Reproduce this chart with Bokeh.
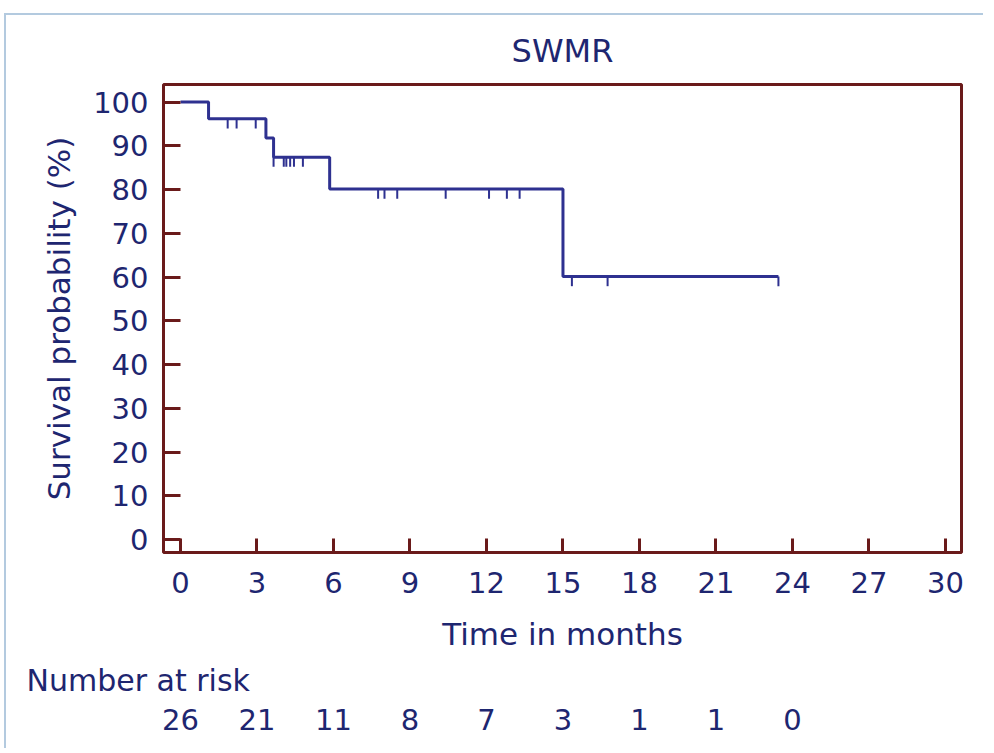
import numpy as np
from bokeh.plotting import figure
from bokeh.models import Range1d, SingleIntervalTicker, FixedTicker, LinearAxis, Title, ColumnDataSource
from bokeh.embed import file_html
from bokeh.resources import INLINE

# ---- data ----
step_times = [0.0, 1.1, 3.35, 3.65, 5.85, 15.0, 23.45]
step_surv = [100.0, 96.15, 91.8, 87.4, 80.1, 60.1, 60.1]
censor_times = [1.85, 2.2, 2.95, 3.65, 4.05, 4.15, 4.3, 4.45, 4.8,
                7.75, 8.0, 8.5, 10.4, 12.1, 12.8, 13.3, 15.35, 16.75, 23.45]
risk_times = [0, 3, 6, 9, 12, 15, 18, 21, 24]
risk_counts = [26, 21, 11, 8, 7, 3, 1, 1, 0]

FONT = "DejaVu Sans"
TXT = "#1E2670"
CURVE = "#2E3190"
FRAME = "#6A1A1A"
FS = "29px"
FS_LAB = "31px"

idx = np.searchsorted(np.array(step_times), np.array(censor_times), side="right") - 1
c_level = np.array(step_surv)[idx]
csrc = ColumnDataSource(dict(x=censor_times, y0=c_level, y1=c_level - 2.2))

p = figure(frame_width=798, frame_height=468,
           x_range=Range1d(-0.667, 30.63), y_range=Range1d(-2.97, 104.0),
           output_backend="svg", toolbar_location=None,
           min_border_left=157, min_border_right=22, min_border_top=69, min_border_bottom=196,
           background_fill_color="white", border_fill_color="white",
           margin=(13, 0, 0, 4),
           styles={"border-top": "2px solid #B3CADF", "border-left": "2px solid #B3CADF"})

p.title.text = "SWMR"
p.title.align = "center"
p.title.text_font = FONT
p.title.text_font_size = "32px"
p.title.text_font_style = "normal"
p.title.text_color = TXT
p.title.standoff = 29

p.grid.visible = False
p.outline_line_color = FRAME
p.outline_line_width = 3
p.outline_line_alpha = 1.0

p.step(x=step_times, y=step_surv, mode="after", line_color=CURVE, line_width=3)
p.segment(x0="x", y0="y0", x1="x", y1="y1", source=csrc, line_color=CURVE, line_width=2)

xa = p.xaxis[0]
xa.ticker = SingleIntervalTicker(interval=3)
xa.axis_label = "Time in months"
ya = p.yaxis[0]
ya.ticker = SingleIntervalTicker(interval=10)
ya.axis_label = "Survival probability (%)"

for ax, tin in ((xa, 14), (ya, 17)):
    ax.axis_line_color = None
    ax.major_tick_in = tin
    ax.major_tick_out = 0
    ax.major_tick_line_color = FRAME
    ax.major_tick_line_width = 3
    ax.minor_tick_line_color = None
    ax.major_label_text_font = FONT
    ax.major_label_text_font_size = FS
    ax.major_label_text_color = TXT
    ax.axis_label_text_font = FONT
    ax.axis_label_text_font_size = FS_LAB
    ax.axis_label_text_font_style = "normal"
    ax.axis_label_text_color = TXT

xa.major_label_standoff = 15
xa.axis_label_standoff = 20
ya.major_label_standoff = 11
ya.axis_label_standoff = 13

risk_title = Title(text="Number at risk", align="left", offset=-137,
                   text_font=FONT, text_font_size="30px", text_font_style="normal",
                   text_color=TXT, standoff=12)
p.add_layout(risk_title, "below")

risk_axis = LinearAxis(ticker=FixedTicker(ticks=risk_times),
                       major_label_overrides={t: str(c) for t, c in zip(risk_times, risk_counts)})
risk_axis.axis_line_color = None
risk_axis.major_tick_line_color = None
risk_axis.minor_tick_line_color = None
risk_axis.major_label_standoff = -1
risk_axis.major_label_text_font = FONT
risk_axis.major_label_text_font_size = FS
risk_axis.major_label_text_color = TXT
p.add_layout(risk_axis, "below")

open("out.html", "w").write(file_html(p, INLINE))
